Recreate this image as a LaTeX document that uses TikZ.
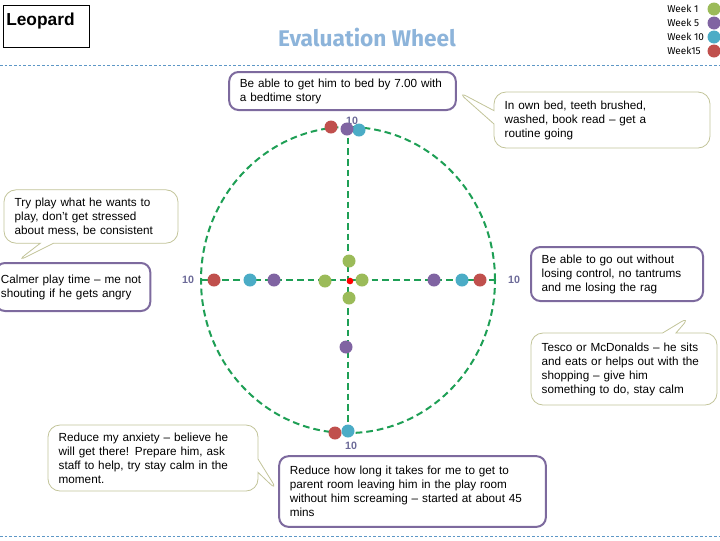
\documentclass[tikz,border=0pt]{standalone}
\usepackage{fontspec}
\setmainfont{Liberation Sans}
\newfontfamily\headfont{Fira Sans}
\usetikzlibrary{shapes.callouts}
\definecolor{wkgreen}{HTML}{9BBB59}
\definecolor{wkpurple}{HTML}{8064A2}
\definecolor{wkteal}{HTML}{4BACC6}
\definecolor{wkred}{HTML}{C0504D}
\definecolor{wheelgreen}{HTML}{1E9F55}
\definecolor{boxpurple}{HTML}{7D6A9E}
\definecolor{noteline}{HTML}{C2C499}
\definecolor{rulecol}{HTML}{5D97C6}
\definecolor{titleblue}{HTML}{8DB4DA}
\definecolor{tengray}{HTML}{6C6A98}
\tikzset{
  dot/.style={circle, fill=#1, inner sep=0pt, minimum size=9.75pt},
  goal/.style={draw=boxpurple, line width=1.5pt, rounded corners=7pt, fill=white,
    align=left, inner xsep=8pt, font=\fontsize{8.8}{10.5}\selectfont},
  note/.style={rectangle callout, draw=noteline, line width=0.6pt, rounded corners=9pt,
    fill=white, align=left, inner xsep=8pt, callout pointer width=10pt,
    font=\fontsize{8.8}{10.5}\selectfont},
  ten/.style={font=\bfseries\fontsize{8}{9}\selectfont, text=tengray},
  legend/.style={anchor=west, inner sep=0pt, font=\headfont\fontsize{7.5}{8}\selectfont},
  axis/.style={wheelgreen, line width=1.5pt, dash pattern=on 5pt off 3pt},
  sep/.style={rulecol, line width=0.6pt, dash pattern=on 2pt off 1.5pt},
}
\begin{document}
\begin{tikzpicture}[x=0.75pt,y=-0.75pt]
\useasboundingbox (0,0) rectangle (720,540);
% Header
\node[draw, line width=0.8pt, minimum width=64.5pt, minimum height=31.5pt,
  inner sep=0pt, anchor=north west] (leo) at (3,5) {};
\node[anchor=west, inner sep=0pt, font=\bfseries\fontsize{13}{15}\selectfont] (leotext) at (6,21) {Leopard};
\node[text=titleblue, font=\headfont\bfseries\fontsize{17}{19}\selectfont] (title) at (367,37) {Evaluation Wheel};
\foreach \y/\c/\t in {9/wkgreen/Week 1, 23/wkpurple/Week 5, 37/wkteal/Week 10, 51/wkred/Week15} {
  \node[legend] (lg\y) at (667,\y) {\t};
  \node[dot=\c] (ld\y) at (714,\y) {};
}
\coordinate (s1) at (0,65);
\coordinate (s2) at (720,65);
\coordinate (s3) at (0,536);
\coordinate (s4) at (720,536);
\draw[sep] (s1) -- (s2);
\draw[sep] (s3) -- (s4);
% Wheel
\coordinate (O) at (348,280);
\coordinate (N) at (348,127);
\coordinate (S) at (348,433);
\coordinate (W) at (201,280);
\coordinate (E) at (495,280);
\draw[axis] (O) ellipse [x radius=110.25pt, y radius=114.75pt];
\draw[axis] (W) -- (E);
\draw[axis] (N) -- (S);
\node[ten] (t1) at (352,121) {10};
\node[ten] (t2) at (188,280) {10};
\node[ten] (t3) at (514,280) {10};
\node[ten] (t4) at (351,446) {10};
% Scores
\node[dot=wkred] (n1) at (331,127) {};
\node[dot=wkteal] (n3) at (359,130) {};
\node[dot=wkpurple] (n2) at (347,129) {};
\node[dot=wkred] (w1) at (214,280) {};
\node[dot=wkteal] (w2) at (250,280) {};
\node[dot=wkpurple] (w3) at (274,280) {};
\node[dot=wkgreen] (w4) at (325,281) {};
\node[dot=wkgreen] (c1) at (362,280) {};
\node[dot=wkgreen] (c2) at (349,261) {};
\node[dot=wkgreen] (c3) at (349,298) {};
\node[circle, fill=red, inner sep=0pt, minimum size=5pt] (c0) at (350,281) {};
\node[dot=wkpurple] (e1) at (434,280) {};
\node[dot=wkteal] (e2) at (462,280) {};
\node[dot=wkred] (e3) at (480,280) {};
\node[dot=wkpurple] (b1) at (346,347) {};
\node[dot=wkred] (b2) at (335,433) {};
\node[dot=wkteal] (b3) at (348,431) {};
% Goals
\node[goal, text width=154pt, minimum height=28.5pt] (bed) at (342.5,91)
  {Be able to get him to bed by 7.00 with\\a bedtime story};
\node[goal, text width=108pt, inner xsep=4pt, minimum height=36pt] (calm) at (73,287)
  {Calmer play time – me not\\shouting if he gets angry};
\node[goal, text width=113pt, minimum height=40.5pt] (out) at (617,274)
  {Be able to go out without\\losing control, no tantrums\\and me losing the rag};
\node[goal, text width=184pt, minimum height=53pt] (room) at (412.5,491.5)
  {Reduce how long it takes for me to get to\\parent room leaving him in the play room\\without him screaming – started at about 45\\mins};
% Notes
\node[note, text width=146pt, minimum height=42pt, callout absolute pointer={(bed.east)}] (routine) at (602,120)
  {In own bed, teeth brushed,\\washed, book read – get a\\routine going};
\node[note, text width=114.5pt, minimum height=40pt, callout absolute pointer={([xshift=16pt]calm.north west)}] (play) at (91,216.5)
  {Try play what he wants to\\play, don’t get stressed\\about mess, be consistent};
\node[note, text width=123.5pt, minimum height=54pt, callout absolute pointer={([shift={(-10pt,-10.5pt)}]out.south east)}] (shop) at (624,369)
  {Tesco or McDonalds – he sits\\and eats or helps out with the\\shopping – give him\\something to do, stay calm};
\node[note, text width=141.5pt, minimum height=49.5pt, callout absolute pointer={(room.west)}] (calmer) at (153,458)
  {Reduce my anxiety – believe he\\will get there! Prepare him, ask\\staff to help, try stay calm in the\\moment.};
\end{tikzpicture}
\end{document}
